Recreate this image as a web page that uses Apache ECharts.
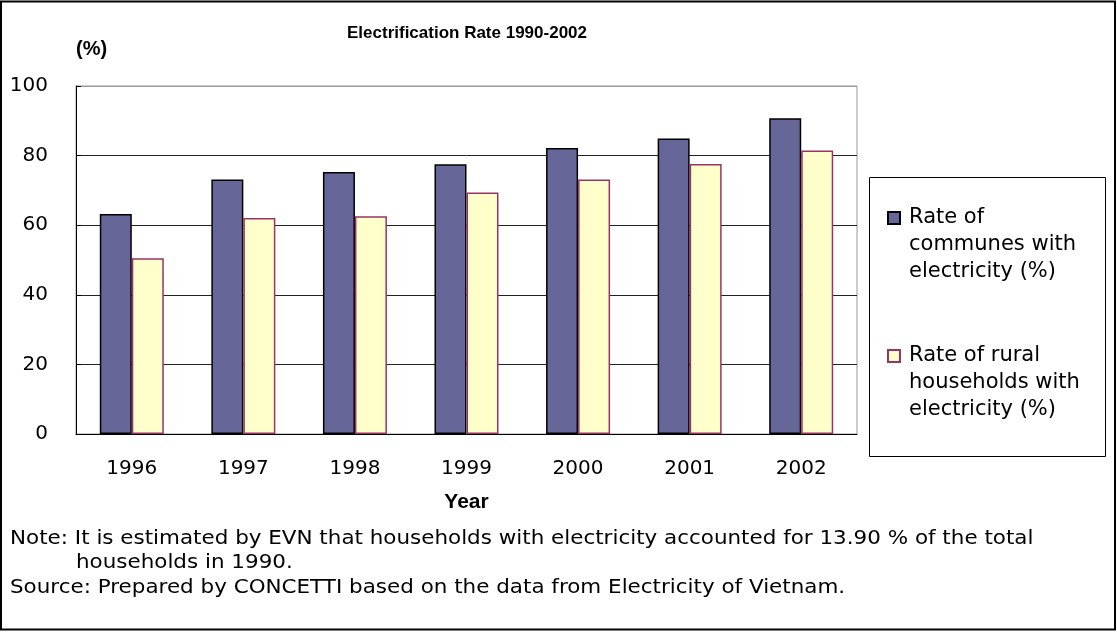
<!DOCTYPE html>
<html>
<head>
<meta charset="utf-8">
<script src="https://cdn.jsdelivr.net/npm/echarts@6/dist/echarts.min.js"></script>
<style>
html,body{margin:0;padding:0;background:#fff;}
#c{width:1117px;height:632px;}
</style>
</head>
<body>
<div id="c"></div>
<script>
// ---- data ----
const years = ['1996', '1997', '1998', '1999', '2000', '2001', '2002'];
const communes = [63.2, 73.1, 75.3, 77.5, 82.2, 84.9, 90.7];
const households = [50.5, 62.1, 62.6, 69.4, 73.1, 77.6, 81.5];
const seriesNames = ['Rate of communes with electricity (%)', 'Rate of rural households with electricity (%)'];
const legendLines = [
  ['Rate of', 'communes with', 'electricity (%)'],
  ['Rate of rural', 'households with', 'electricity (%)']
];
const yMin = 0, yMax = 100, yInterval = 20;
const titleText = 'Electrification Rate 1990-2002';
const yAxisName = '(%)';
const xAxisName = 'Year';
const noteLines = [
  'Note: It is estimated by EVN that households with electricity accounted for 13.90 % of the total',
  'households in 1990.',
  'Source: Prepared by CONCETTI based on the data from Electricity of Vietnam.'
];

// ---- chart ----
const chart = echarts.init(document.getElementById('c'), null, {renderer: 'canvas'});
const tickFont = {fontFamily: 'DejaVu Sans', fontSize: 20, color: '#000'};
const noteStyle = {fontFamily: 'DejaVu Sans', fontSize: 19.5, fill: '#000', verticalAlign: 'middle'};

// two blank lines before the text so the first line sits level with the legend marker
const legendText = name => '\n\n' + legendLines[seriesNames.indexOf(name)].join('\n');

const option = {
  backgroundColor: '#fff',
  animation: false,
  title: {
    text: titleText,
    left: 467, top: 25, textAlign: 'center', padding: 0,
    textStyle: {fontFamily: 'Liberation Sans', fontWeight: 'bold', fontSize: 17, color: '#000'}
  },
  grid: {
    left: 76, top: 86, width: 781, height: 348,
    show: true, borderColor: '#999', borderWidth: 1, backgroundColor: '#fff'
  },
  legend: {
    orient: 'vertical', left: 887, top: 150.5, padding: 0,
    itemWidth: 12, itemHeight: 12, itemGap: 3, icon: 'rect', z: 5,
    data: seriesNames,
    formatter: legendText,
    textStyle: {fontFamily: 'DejaVu Sans', fontSize: 21, color: '#000', lineHeight: 27, padding: [0, 0, 0, 4]}
  },
  xAxis: {
    type: 'category', data: years,
    axisLine: {show: true, lineStyle: {color: '#000', width: 1}},
    axisTick: {show: false},
    axisLabel: Object.assign({margin: 25}, tickFont),
    name: xAxisName, nameLocation: 'middle', nameGap: 68,
    nameTextStyle: {fontFamily: 'Liberation Sans', fontWeight: 'bold', fontSize: 21, color: '#000', verticalAlign: 'middle'}
  },
  yAxis: {
    type: 'value', min: yMin, max: yMax, interval: yInterval,
    axisLine: {show: true, lineStyle: {color: '#000', width: 1}},
    axisTick: {show: true, inside: true, length: 5, lineStyle: {color: '#000'}},
    splitLine: {show: true, lineStyle: {color: ['#222', '#222', '#222', '#222', '#222', '#999'], width: 1}},
    axisLabel: Object.assign({margin: 28}, tickFont),
    name: yAxisName, nameLocation: 'end', nameGap: 37,
    nameTextStyle: {fontFamily: 'Liberation Sans', fontWeight: 'bold', fontSize: 20, color: '#000', align: 'left', verticalAlign: 'middle'}
  },
  series: [
    {
      name: seriesNames[0], type: 'bar', data: communes,
      barWidth: 32, barGap: '0%',
      itemStyle: {color: '#666699', borderColor: '#000', borderWidth: 1.5}
    },
    {
      name: seriesNames[1], type: 'bar', data: households,
      barWidth: 32, barGap: '0%',
      itemStyle: {color: '#FFFFCC', borderColor: '#993366', borderWidth: 1.5}
    }
  ],
  graphic: [
    {type: 'rect', z: -1, shape: {x: 1, y: 1.5, width: 1114, height: 628}, style: {fill: 'none', stroke: '#000', lineWidth: 2}},
    {type: 'rect', z: 1, shape: {x: 869.5, y: 177.5, width: 236, height: 279}, style: {fill: '#fff', stroke: '#000', lineWidth: 1}},
    {type: 'text', x: 10, y: 539, scaleX: 1.1, style: Object.assign({text: noteLines[0]}, noteStyle)},
    {type: 'text', x: 76, y: 563, scaleX: 1.1, style: Object.assign({text: noteLines[1]}, noteStyle)},
    {type: 'text', x: 10, y: 588, scaleX: 1.1, style: Object.assign({text: noteLines[2]}, noteStyle)}
  ]
};
chart.setOption(option);
</script>
</body>
</html>
